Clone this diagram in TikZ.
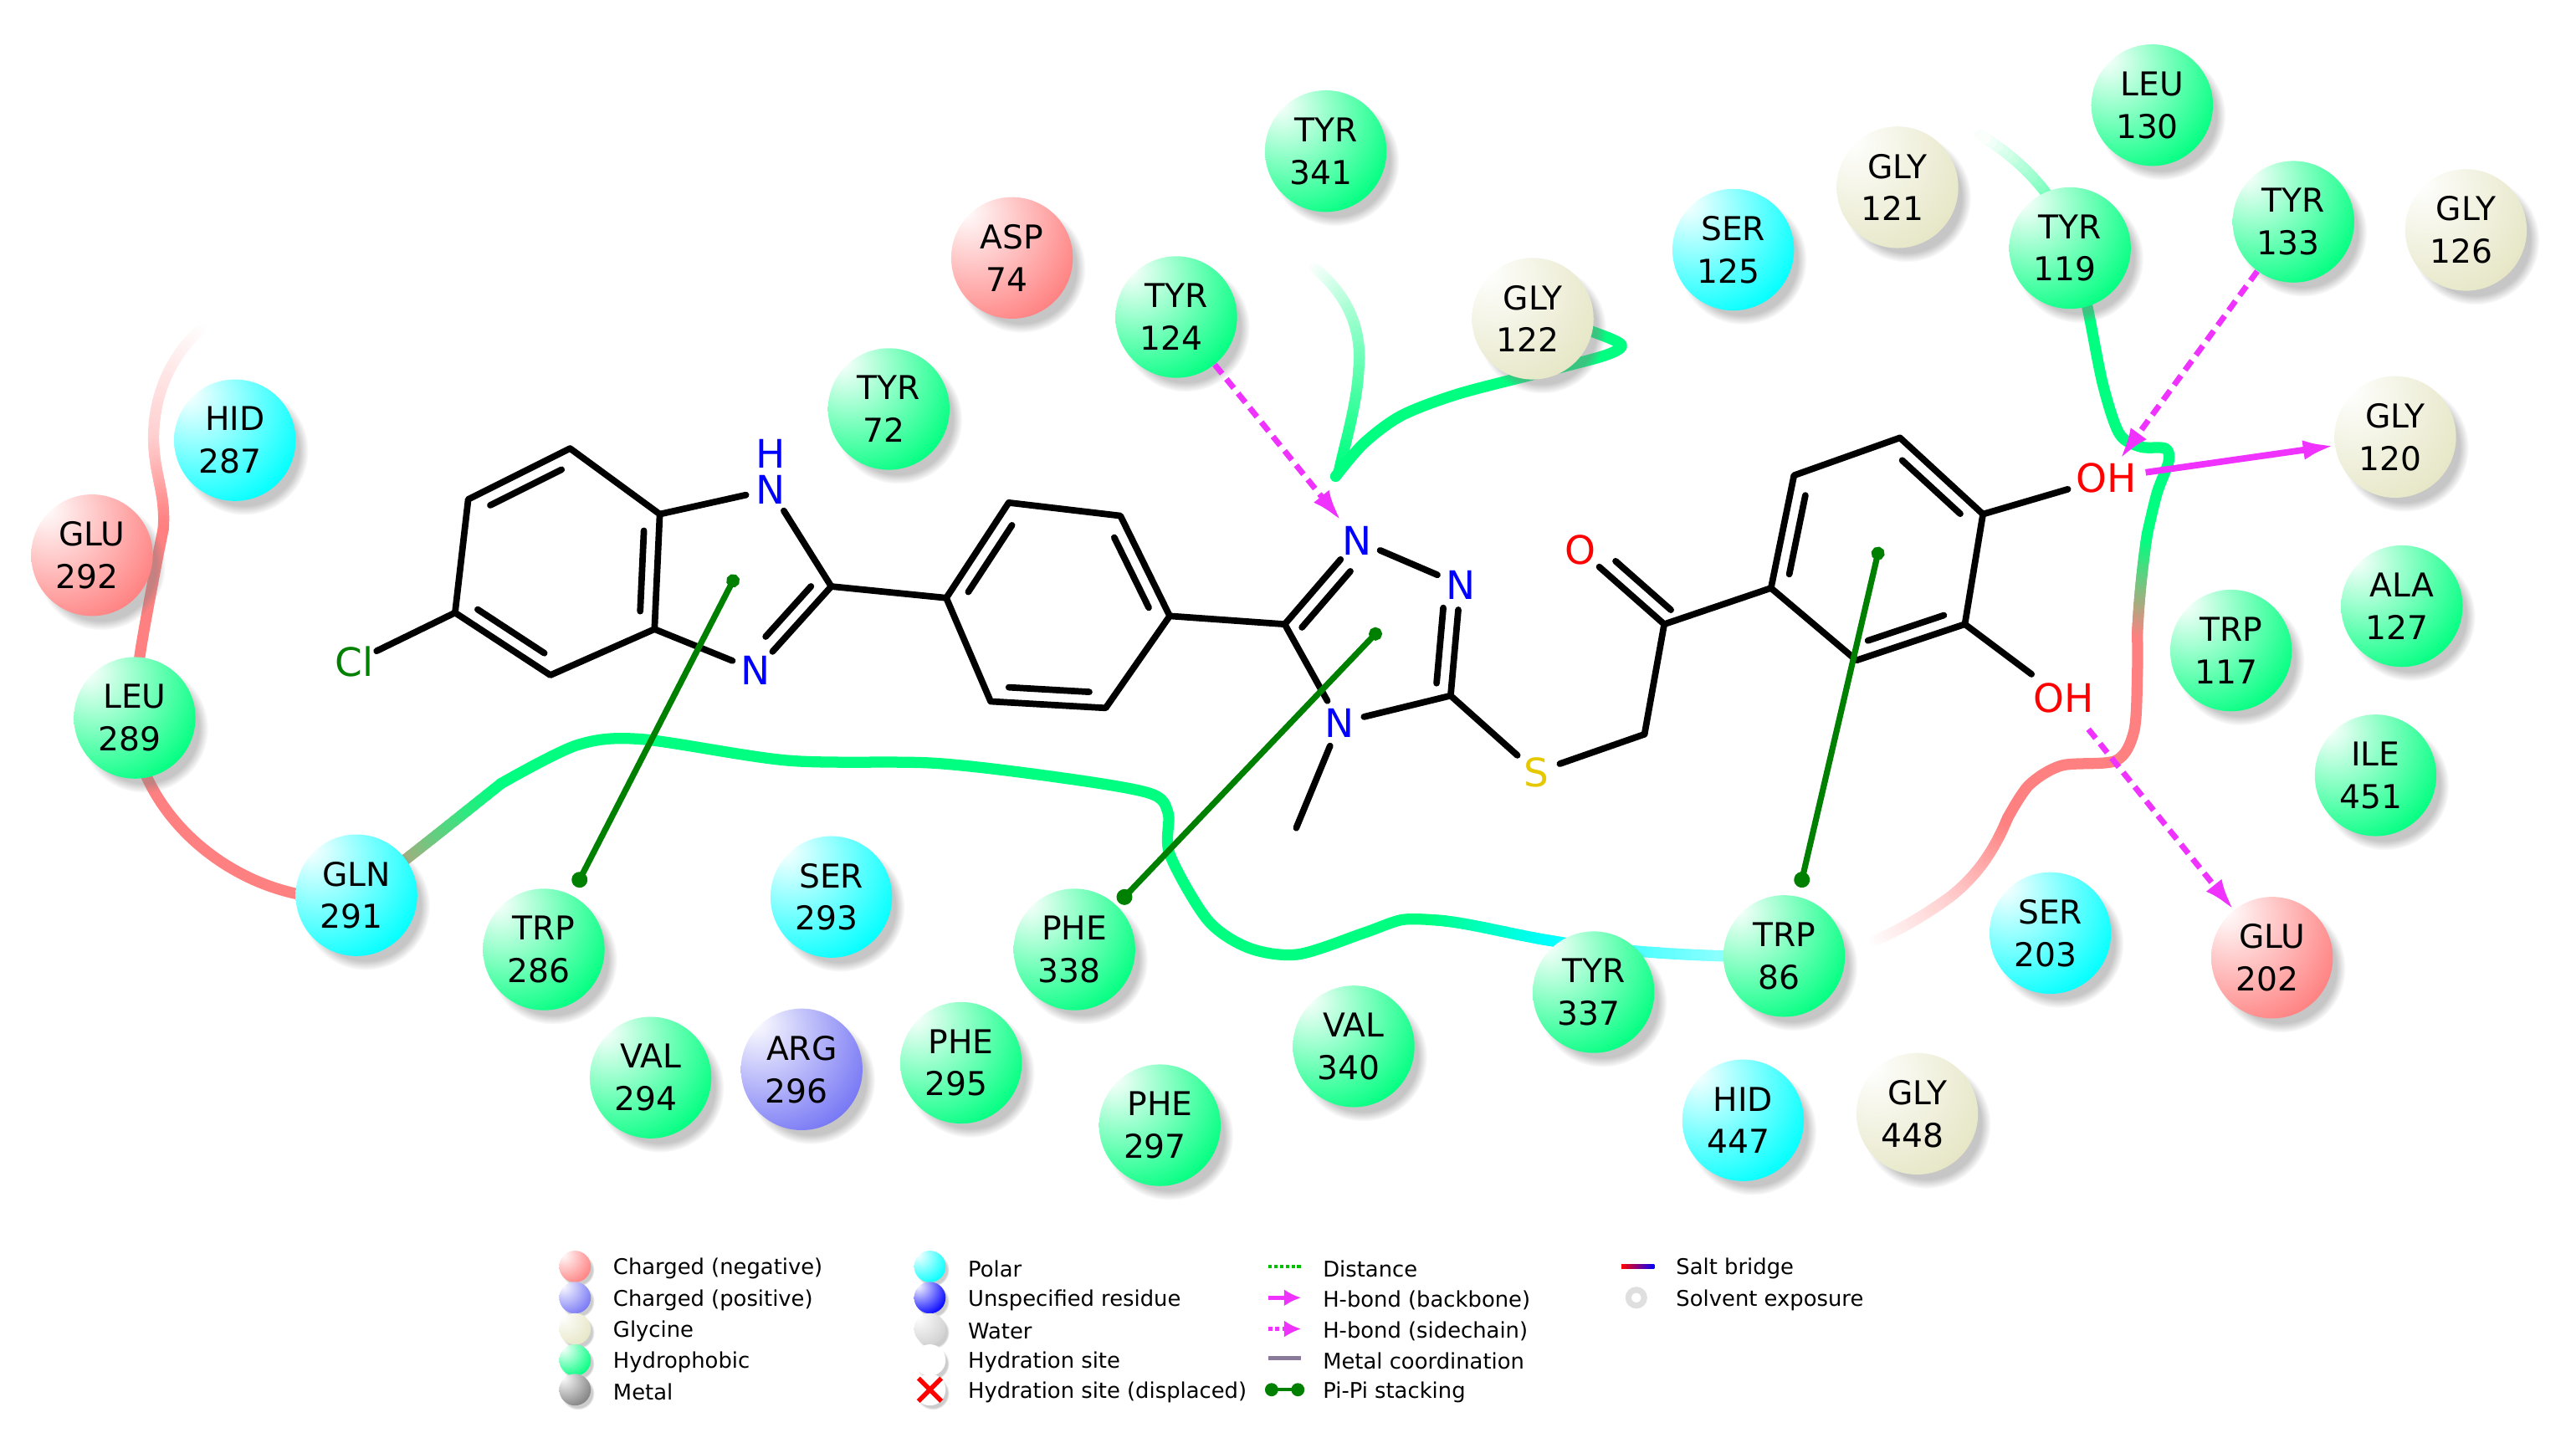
\documentclass[tikz,border=0pt]{standalone}
\usepackage{xcolor}
\usepackage{fontspec}
\setmainfont{DejaVu Sans}
\usetikzlibrary{arrows.meta, calc, shadows, fadings}
\definecolor{tubegreen}{RGB}{0,255,128}
\definecolor{tubemint}{RGB}{102,255,179}
\definecolor{tubesalmon}{RGB}{255,128,128}
\definecolor{tubepale}{RGB}{255,208,208}
\definecolor{tubecyan}{RGB}{0,255,255}
\definecolor{tubecyanlight}{RGB}{140,255,255}
\definecolor{hbondpink}{RGB}{240,50,255}
\definecolor{pigreen}{RGB}{0,128,0}
\definecolor{metalgray}{RGB}{138,122,154}
\definecolor{sulfuryellow}{RGB}{230,200,0}
\definecolor{glycream}{RGB}{230,230,198}
\definecolor{argblue}{RGB}{118,118,245}
\definecolor{watergray}{RGB}{208,208,208}
\definecolor{metalball}{RGB}{128,128,128}

\newcommand{\newballshade}[2]{\pgfdeclareradialshading{#1}{\pgfpoint{-20bp}{20bp}}{color(0bp)=(white); color(42bp)=(#2); color(100bp)=(#2)}}
\newballshade{greenshade}{tubegreen}
\newballshade{cyanshade}{tubecyan}
\newballshade{redshade}{tubesalmon}
\newballshade{creamshade}{glycream}
\newballshade{purpleshade}{argblue}
\newballshade{blueshade}{blue}
\newballshade{watershade}{watergray}
\newballshade{metalshade}{metalball}
\newballshade{whiteshade}{white}

\tikzset{
    resball/.style={circle, minimum size=1.85cm, inner sep=0pt, align=center, text=black,
        font=\fontsize{14.2pt}{18.4pt}\selectfont, shade,
        circular drop shadow={shadow xshift=0.13cm, shadow yshift=-0.15cm, shadow scale=1.06, opacity=0.45}},
    hydrophobic/.style={resball, shading=greenshade},
    polar/.style={resball, shading=cyanshade},
    negative/.style={resball, shading=redshade},
    glycine/.style={resball, shading=creamshade},
    positive/.style={resball, shading=purpleshade},
    legball/.style={circle, minimum size=0.48cm, inner sep=0pt, shade,
        circular drop shadow={shadow xshift=0.04cm, shadow yshift=-0.05cm, shadow scale=1.06, opacity=0.4}},
    leglabel/.style={anchor=west, inner sep=0pt, yshift=-0.035cm, text=black, font=\fontsize{9.35pt}{11pt}\selectfont},
    atomlabel/.style={circle, inner sep=0pt, minimum size=0.75cm, font=\fontsize{17pt}{20pt}\selectfont},
    ohlabel/.style={atomlabel, minimum size=1.2cm},
    bondline/.style={line width=2.8pt, black, line cap=round, line join=round},
    tube/.style={line width=4.8pt, line cap=round, line join=round},
    hbside/.style={line width=2.5pt, hbondpink, dash pattern=on 5pt off 3pt, -{Latex[length=0.48cm, width=0.3cm]}},
    hbback/.style={line width=2.8pt, hbondpink, -{Latex[length=0.48cm, width=0.3cm]}},
    pistack/.style={line width=2.6pt, pigreen, {Circle[length=0.24cm]}-{Circle[length=0.2cm]}},
}

% two text lines of a residue, the number sits a little to the left
\newcommand{\resname}[2]{#1\\#2\kern0.15cm}

% ribbon piece that changes colour along a curve
\newcommand{\tubecurve}[6]{%
    \foreach \i in {0,...,23}{
        \pgfmathsetmacro\ta{\i/24}
        \pgfmathsetmacro\tb{(\i+1)/24}
        \pgfmathtruncatemacro\mixpct{100-100*(\i+0.5)/24}
        \path #1 .. controls #2 and #3 .. #4 coordinate[pos=\ta] (tubeA) coordinate[pos=\tb] (tubeB);
        \draw[tube, draw={#5!\mixpct!#6}] (tubeA) -- (tubeB);
    }%
}
% inner line of a double bond
\newcommand{\innerbond}[5]{\draw[bondline] ($(#1)!#4!(#2)!0.23cm!#3:(#2)$) -- ($(#2)!#5!(#1)!0.23cm!-#3:(#1)$);}

\begin{document}
\begin{tikzpicture}[x=0.025cm, y=-0.025cm]
    \useasboundingbox (0,0) rectangle (1568,875);

    % ribbon, left part
    \tubecurve{(123,200)}{(105,215)}{(93,240)}{(93.5,268)}{white}{tubepale}
    \tubecurve{(93.5,268)}{(94,290)}{(101,300)}{(99.4,322)}{tubepale}{tubesalmon}
    \draw[tube, tubesalmon] plot[smooth] coordinates {(99.4,322) (93.5,352) (85,400) (82,437)};
    \draw[tube, tubesalmon] (88,470) .. controls (105,510) and (145,538) .. (185,545);
    \tubecurve{(225,540)}{(245,525)}{(270,505)}{(305,477)}{tubesalmon}{tubegreen}

    % ribbon, long middle part
    \draw[tube, tubegreen] plot[smooth] coordinates {(305,477) (351,453.7) (390.5,450) (480,463) (569,464.6) (647.6,473.7) (700,483) (711,495) (712,520) (735,560) (760,577) (790,581) (830,568) (853,560) (872,560)};
    \tubecurve{(872,560)}{(892,561)}{(920,569)}{(946,573)}{tubegreen}{tubecyan}
    \tubecurve{(946,573)}{(975,578)}{(1015,581)}{(1050,582)}{tubecyan}{tubecyanlight}

    % ribbon, right part
    \tubecurve{(1140,573)}{(1155,567)}{(1172,557)}{(1187,546)}{white}{tubepale}
    \tubecurve{(1187,546)}{(1205,532)}{(1215,515)}{(1222,498)}{tubepale}{tubesalmon}
    \draw[tube, tubesalmon] plot[smooth] coordinates {(1222,498) (1235,478) (1255,466) (1288,463) (1299,445) (1301,410) (1301,385)};
    \tubecurve{(1301,385)}{(1302,365)}{(1304,345)}{(1307,325)}{tubesalmon}{tubegreen}
    \draw[tube, tubegreen] plot[smooth] coordinates {(1307,325) (1313,300) (1320,281) (1318,273) (1303,272) (1290,264) (1280,234) (1271,189) (1262,150)};
    \tubecurve{(1262,150)}{(1255,125)}{(1235,100)}{(1205,82)}{tubegreen}{white}

    % ribbon, top part
    \tubecurve{(800,163)}{(815,175)}{(830,195)}{(827,225)}{white}{tubemint}
    \tubecurve{(827,225)}{(826,245)}{(820,265)}{(815,287)}{tubemint}{tubegreen}
    \draw[tube, tubegreen] plot[smooth] coordinates {(813,290) (830,270) (853,253) (887,240) (933,228) (975,217) (987,211) (980,206) (950,195)};

    % residues
    \node[hydrophobic] (leu130) at (1310,64) {\resname{LEU}{130}};
    \node[hydrophobic] (tyr341) at (807,92) {\resname{TYR}{341}};
    \node[glycine] (gly121) at (1155,114) {\resname{GLY}{121}};
    \node[hydrophobic] (tyr119) at (1260,151) {\resname{TYR}{119}};
    \node[hydrophobic] (tyr133) at (1396,135) {\resname{TYR}{133}};
    \node[glycine] (gly126) at (1501,140) {\resname{GLY}{126}};
    \node[polar] (ser125) at (1055,152) {\resname{SER}{125}};
    \node[negative] (asp74) at (616,157) {\resname{ASP}{74}};
    \node[hydrophobic] (tyr124) at (716,193) {\resname{TYR}{124}};
    \node[glycine] (gly122) at (933,194) {\resname{GLY}{122}};
    \node[hydrophobic] (tyr72) at (541,249) {\resname{TYR}{72}};
    \node[polar] (hid287) at (143,268) {\resname{HID}{287}};
    \node[glycine] (gly120) at (1458,266) {\resname{GLY}{120}};
    \node[negative] (glu292) at (56,338) {\resname{GLU}{292}};
    \node[hydrophobic] (ala127) at (1462,369) {\resname{ALA}{127}};
    \node[hydrophobic] (trp117) at (1358,396) {\resname{TRP}{117}};
    \node[hydrophobic] (leu289) at (82,437) {\resname{LEU}{289}};
    \node[hydrophobic] (ile451) at (1446,472) {\resname{ILE}{451}};
    \node[polar] (gln291) at (217,545) {\resname{GLN}{291}};
    \node[hydrophobic] (trp286) at (331,578) {\resname{TRP}{286}};
    \node[polar] (ser293) at (506,546) {\resname{SER}{293}};
    \node[hydrophobic] (phe338) at (654,578) {\resname{PHE}{338}};
    \node[polar] (ser203) at (1248,568) {\resname{SER}{203}};
    \node[negative] (glu202) at (1383,583) {\resname{GLU}{202}};
    \node[hydrophobic] (tyr337) at (970,604) {\resname{TYR}{337}};
    \node[hydrophobic] (trp86) at (1086,582) {\resname{TRP}{86}};
    \node[hydrophobic] (val294) at (396,656) {\resname{VAL}{294}};
    \node[positive] (arg296) at (488,651) {\resname{ARG}{296}};
    \node[hydrophobic] (phe295) at (585,647) {\resname{PHE}{295}};
    \node[hydrophobic] (phe297) at (706,685) {\resname{PHE}{297}};
    \node[hydrophobic] (val340) at (824,637) {\resname{VAL}{340}};
    \node[polar] (hid447) at (1061,682) {\resname{HID}{447}};
    \node[glycine] (gly448) at (1167,678) {\resname{GLY}{448}};

    % atoms with a label
    \node[atomlabel, pigreen] (cl) at (215.5,403) {Cl};
    \node[atomlabel, blue] (nh) at (469,298) {N};
    \node[atomlabel, blue, inner sep=0pt, minimum size=0pt] (hh) at (469,276) {H};
    \node[atomlabel, blue] (nim) at (460,408) {N};
    \node[atomlabel, blue] (tna) at (826,329) {N};
    \node[atomlabel, blue] (tnb) at (889,356) {N};
    \node[atomlabel, blue] (tnc) at (815.4,440) {N};
    \node[atomlabel, sulfuryellow] (sul) at (935,470) {S};
    \node[atomlabel, red] (oxo) at (962,335) {O};
    \node[ohlabel, red] (oha) at (1282,291) {OH};
    \node[ohlabel, red] (ohb) at (1256,425) {OH};

    % carbons
    \coordinate (a1) at (347,273);
    \coordinate (a2) at (285,304);
    \coordinate (a3) at (277,373);
    \coordinate (a4) at (335,411);
    \coordinate (a5) at (398.4,383);
    \coordinate (a6) at (401.6,313);
    \coordinate (c2) at (506,357);
    \coordinate (p1) at (576,364);
    \coordinate (p2) at (614,306);
    \coordinate (p3) at (682,314);
    \coordinate (p4) at (712,375);
    \coordinate (p5) at (673,431);
    \coordinate (p6) at (603,427);
    \coordinate (t1) at (782,380);
    \coordinate (t3) at (883,423.5);
    \coordinate (me) at (789,504);
    \coordinate (ch2) at (1001,447);
    \coordinate (co) at (1013,380);
    \coordinate (b1) at (1078,358);
    \coordinate (b2) at (1092,289.4);
    \coordinate (b3) at (1156.5,266.5);
    \coordinate (b4) at (1207,313);
    \coordinate (b5) at (1196,380);
    \coordinate (b6) at (1130,402);

    % benzimidazole
    \draw[bondline] (a1) -- (a2) -- (a3) -- (a4) -- (a5) -- (a6) -- cycle;
    \draw[bondline] (a3) -- (cl);
    \draw[bondline] (a6) -- (nh);
    \draw[bondline] (nh) -- (c2);
    \draw[bondline] (c2) -- (nim);
    \draw[bondline] (nim) -- (a5);
    \innerbond{a1}{a2}{90}{0.15}{0.15}
    \innerbond{a3}{a4}{90}{0.15}{0.15}
    \innerbond{a5}{a6}{90}{0.15}{0.15}
    \innerbond{c2}{nim}{-90}{0.12}{0.28}

    % phenyl
    \draw[bondline] (c2) -- (p1);
    \draw[bondline] (p1) -- (p2) -- (p3) -- (p4) -- (p5) -- (p6) -- cycle;
    \innerbond{p1}{p2}{-90}{0.15}{0.15}
    \innerbond{p3}{p4}{-90}{0.15}{0.15}
    \innerbond{p5}{p6}{-90}{0.15}{0.15}
    \draw[bondline] (p4) -- (t1);

    % triazole
    \draw[bondline] (t1) -- (tna);
    \draw[bondline] (tna) -- (tnb);
    \draw[bondline] (tnb) -- (t3);
    \draw[bondline] (t3) -- (tnc);
    \draw[bondline] (tnc) -- (t1);
    \draw[bondline] (tnc) -- (me);
    \innerbond{t1}{tna}{-90}{0.08}{0.25}
    \innerbond{tnb}{t3}{-90}{0.22}{0.1}

    % linker and diol ring
    \draw[bondline] (t3) -- (sul);
    \draw[bondline] (sul) -- (ch2);
    \draw[bondline] (ch2) -- (co);
    \draw[bondline] (co) -- (oxo);
    \innerbond{oxo}{co}{90}{0.3}{0.04}
    \draw[bondline] (co) -- (b1);
    \draw[bondline] (b1) -- (b2) -- (b3) -- (b4) -- (b5) -- (b6) -- cycle;
    \innerbond{b1}{b2}{-90}{0.15}{0.15}
    \innerbond{b3}{b4}{-90}{0.15}{0.15}
    \innerbond{b5}{b6}{-90}{0.15}{0.15}
    \draw[bondline] (b4) -- (oha);
    \draw[bondline] (b5) -- (ohb);

    % pi stacking
    \coordinate (piim) at (448,350);
    \coordinate (pitr) at (840,383);
    \coordinate (piar) at (1144,333);
    \draw[pistack, shorten <=0.14cm] (trp286) -- (piim);
    \draw[pistack, shorten <=0.05cm] (phe338) -- (pitr);
    \draw[pistack, shorten <=0.14cm] (trp86) -- (piar);

    % h-bonds
    \draw[hbside] (tyr124) -- (tna);
    \draw[hbside, shorten >=-0.25cm] (tyr133) -- (oha);
    \draw[hbside] (ohb) -- (glu202);
    \draw[hbback] (oha) -- (gly120);

    % legend, balls
    \node[legball, shading=redshade] (lnega) at (350,771) {};
    \node[legball, shading=purpleshade] (lposi) at (350,790) {};
    \node[legball, shading=creamshade] (lglyc) at (350,809) {};
    \node[legball, shading=greenshade] (lhydr) at (350,828) {};
    \node[legball, shading=metalshade] (lmeta) at (350,846) {};
    \node[leglabel] at (373,771) {Charged (negative)};
    \node[leglabel] at (373,790) {Charged (positive)};
    \node[leglabel] at (373,809) {Glycine};
    \node[leglabel] at (373,828) {Hydrophobic};
    \node[leglabel] at (373,846) {Metal};

    \node[legball, shading=cyanshade] (lpola) at (566,771) {};
    \node[legball, shading=blueshade] (lunsp) at (566,790) {};
    \node[legball, shading=watershade] (lwate) at (566,809) {};
    \node[legball, shading=whiteshade] (lhyda) at (566,828) {};
    \node[legball, shading=whiteshade] (lhydb) at (566,846) {};
    \draw[red, line width=2pt] (lhydb.north west) -- (lhydb.south east);
    \draw[red, line width=2pt] (lhydb.north east) -- (lhydb.south west);
    \node[leglabel] at (589,771) {Polar};
    \node[leglabel] at (589,790) {Unspecified residue};
    \node[leglabel] at (589,809) {Water};
    \node[leglabel] at (589,828) {Hydration site};
    \node[leglabel] at (589,846) {Hydration site (displaced)};

    % legend, lines
    \coordinate (ldista) at (772,771);
    \coordinate (ldistb) at (792,771);
    \coordinate (lbacka) at (772,790);
    \coordinate (lbackb) at (792,790);
    \coordinate (lsidea) at (772,809);
    \coordinate (lsideb) at (792,809);
    \coordinate (lmetaa) at (772,827);
    \coordinate (lmetab) at (792,827);
    \coordinate (lpia) at (770,846);
    \coordinate (lpib) at (794,846);
    \draw[green!75!black, line width=1.5pt, dash pattern=on 1.5pt off 1pt] (ldista) -- (ldistb);
    \draw[hbondpink, line width=1.8pt, -{Latex[length=0.26cm, width=0.26cm]}] (lbacka) -- (lbackb);
    \draw[hbondpink, line width=1.8pt, dash pattern=on 1.8pt off 1.2pt, -{Latex[length=0.26cm, width=0.26cm]}] (lsidea) -- (lsideb);
    \draw[metalgray, line width=1.8pt] (lmetaa) -- (lmetab);
    \draw[pigreen, line width=1.5pt, {Circle[length=0.2cm]}-{Circle[length=0.2cm]}] (lpia) -- (lpib);
    \node[leglabel] at (805,771) {Distance};
    \node[leglabel] at (805,790) {H-bond (backbone)};
    \node[leglabel] at (805,809) {H-bond (sidechain)};
    \node[leglabel] at (805,827) {Metal coordination};
    \node[leglabel] at (805,846) {Pi-Pi stacking};

    \shade[left color=red, right color=blue] (987,769.5) rectangle (1007,772.5);
    \node[circle, draw=gray!25, line width=2.6pt, minimum size=0.24cm, inner sep=0pt] (lsolv) at (996,790) {};
    \node[leglabel] at (1020,771) {Salt bridge};
    \node[leglabel] at (1020,790) {Solvent exposure};
\end{tikzpicture}
\end{document}
